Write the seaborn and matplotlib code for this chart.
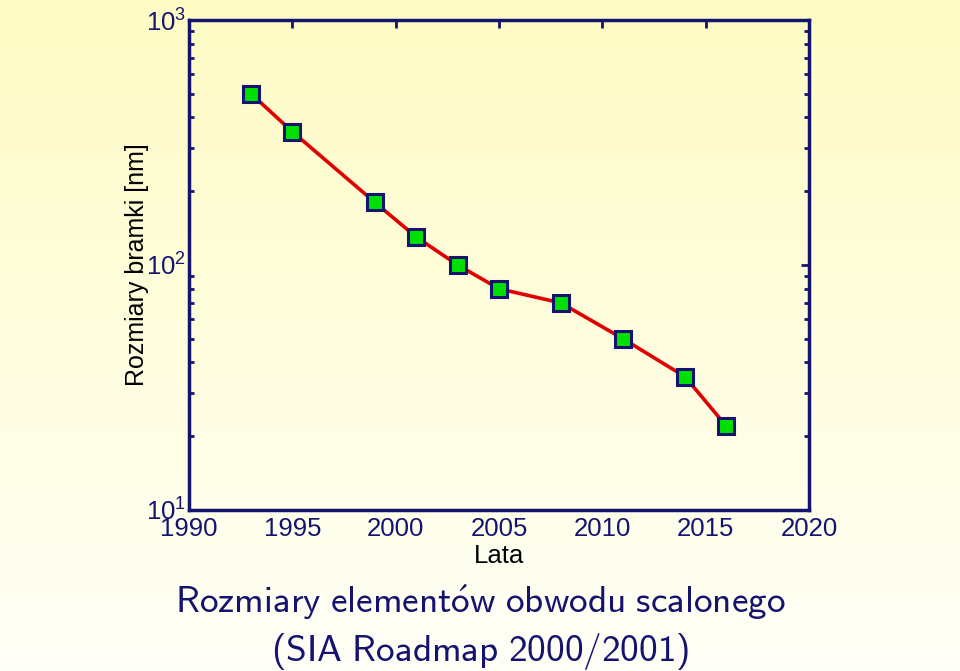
import numpy as np
import pandas as pd
import matplotlib
matplotlib.use("Agg")
import matplotlib.pyplot as plt
import seaborn as sns
from matplotlib.ticker import LogLocator, FixedLocator, NullFormatter

years = [1993, 1995, 1999, 2001, 2003, 2005, 2008, 2011, 2014, 2016]
gate_nm = [500, 350, 180, 130, 100, 80, 70, 50, 35, 22]
xticks = [1990, 1995, 2000, 2005, 2010, 2015, 2020]

df = pd.DataFrame({"Lata": years, "size": gate_nm})

sns.set_theme(style="white")
plt.rcParams['font.family'] = ['Liberation Sans', 'DejaVu Sans']
plt.rcParams['mathtext.fontset'] = 'custom'
plt.rcParams['mathtext.rm'] = 'Liberation Sans'
plt.rcParams['mathtext.it'] = 'Liberation Sans'
plt.rcParams['mathtext.sf'] = 'cmss10'

navy = '#141470'
fig = plt.figure(figsize=(9.6, 6.71), dpi=100)

# gradient background
bg = fig.add_axes([0, 0, 1, 1], zorder=-10)
grad = np.linspace(0, 1, 256).reshape(-1, 1)
top = np.array([1.0, 0.988, 0.77])
bot = np.array([0.997, 1.0, 0.97])
img = top[None, None, :] * (1 - grad[:, :, None]) + bot[None, None, :] * grad[:, :, None]
bg.imshow(img, aspect='auto', extent=[0, 1, 0, 1])
bg.axis('off')

ax = fig.add_axes([189/960, 1 - 510/671, 620/960, 490/671])
ax.patch.set_alpha(0)
sns.lineplot(data=df, x="Lata", y="size", ax=ax, color='#e00000', linewidth=2.6,
             marker='s', markersize=12, markerfacecolor='#00e000',
             markeredgecolor=navy, markeredgewidth=2.2)
ax.set_yscale('log')
ax.set_xlim(1990, 2020)
ax.set_ylim(10, 1000)
ax.xaxis.set_major_locator(FixedLocator(xticks))
ax.set_xticklabels([str(t) for t in xticks])
ax.yaxis.set_major_locator(LogLocator(base=10))
ax.yaxis.set_minor_locator(LogLocator(base=10, subs=np.arange(2, 10)))
ax.yaxis.set_minor_formatter(NullFormatter())

for s in ax.spines.values():
    s.set_color(navy)
    s.set_linewidth(2.5)
ax.tick_params(axis='both', which='major', direction='in', length=6, width=2,
               color=navy, labelcolor=navy, labelsize=18.5, top=True, right=True)
ax.tick_params(axis='both', which='minor', direction='in', length=3.5, width=2,
               color=navy, top=True, right=True, left=True)
ax.tick_params(axis='x', pad=5)
ax.tick_params(axis='y', pad=2)

ax.set_xlabel("Lata", fontsize=18.5, color='black', labelpad=2)
ax.set_ylabel("Rozmiary bramki [nm]", fontsize=18, color='black', labelpad=-2)

fig.text(0.5, 1 - 602/671, r"$\mathsf{Rozmiary\ element\acute{o}w\ obwodu\ scalonego}$",
         ha='center', va='center', fontsize=26.8, color=navy)
fig.text(0.5, 1 - 651/671, r"$\mathsf{(SIA\ Roadmap\ 2000/2001)}$", ha='center', va='center',
         fontsize=26.8, color=navy)

fig.savefig("out.png", dpi=100)
